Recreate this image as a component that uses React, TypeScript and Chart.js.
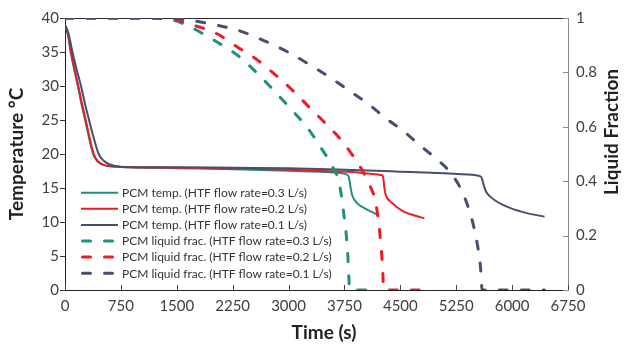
import React, { useEffect, useRef } from "react";
import { Chart, registerables } from "chart.js";

Chart.register(...registerables);

// ---------- data ----------
const timeTickStep = 750;
const timeMax = 6750;
const tempMax = 40;
const tempStep = 5;
const fracStep = 0.2;

const legendLabels = [
  "PCM temp. (HTF flow rate=0.3 L/s)",
  "PCM temp. (HTF flow rate=0.2 L/s)",
  "PCM temp. (HTF flow rate=0.1 L/s)",
  "PCM liquid frac. (HTF flow rate=0.3 L/s)",
  "PCM liquid frac. (HTF flow rate=0.2 L/s)",
  "PCM liquid frac. (HTF flow rate=0.1 L/s)",
];

const tempTime03 = [0, 38, 76, 124, 172, 220, 270, 322, 377, 432, 512, 600, 750, 1500, 2250, 3000, 3500, 3780, 3805, 3820, 3835, 3852, 3880, 3948, 4000, 4060, 4130, 4203];
const temp03 = [39.0, 37.6, 35.0, 32.4, 30.0, 27.4, 25.0, 22.4, 20.0, 18.95, 18.4, 18.2, 18.1, 17.92, 17.75, 17.55, 17.35, 17.0, 16.7, 16.0, 14.9, 14.0, 13.3, 12.5, 12.15, 11.8, 11.4, 11.0];

const tempTime02 = [0, 40, 81, 130, 179, 228, 278, 330, 385, 440, 520, 605, 750, 1500, 2250, 3000, 3500, 3900, 4100, 4262, 4272, 4283, 4295, 4320, 4355, 4395, 4470, 4552, 4690, 4823];
const temp02 = [39.0, 37.6, 35.0, 32.4, 30.0, 27.4, 25.0, 22.4, 20.0, 18.95, 18.4, 18.2, 18.1, 17.98, 17.85, 17.7, 17.5, 17.3, 17.08, 16.85, 16.4, 15.3, 14.4, 13.6, 13.1, 12.75, 12.05, 11.5, 10.95, 10.55];

const tempTime01 = [0, 45, 100, 157, 215, 268, 323, 385, 452, 520, 600, 675, 800, 1500, 2250, 3000, 3750, 4500, 5000, 5495, 5584, 5600, 5625, 5651, 5700, 5763, 5870, 5987, 6100, 6211, 6435];
const temp01 = [39.0, 37.8, 35.0, 32.4, 30.0, 27.4, 25.0, 22.4, 20.0, 19.0, 18.45, 18.25, 18.1, 18.05, 17.97, 17.9, 17.68, 17.4, 17.2, 16.9, 16.65, 16.2, 15.2, 14.46, 13.8, 13.24, 12.55, 12.0, 11.6, 11.27, 10.78];

const fracTime03 = [0, 1000, 1412, 1614, 1994, 2310, 2534, 2759, 3006, 3253, 3454, 3589, 3679, 3746, 3791, 3813, 3822, 4200];
const frac03 = [1, 1, 0.994, 0.976, 0.919, 0.864, 0.809, 0.746, 0.673, 0.596, 0.515, 0.454, 0.393, 0.27, 0.147, 0.025, 0, 0];

const fracTime02 = [0, 1000, 1450, 1614, 2018, 2332, 2579, 2826, 3050, 3274, 3476, 3679, 3834, 3968, 4080, 4170, 4224, 4260, 4278, 4823];
const frac02 = [1, 1, 0.996, 0.982, 0.945, 0.89, 0.846, 0.79, 0.735, 0.673, 0.618, 0.56, 0.505, 0.45, 0.39, 0.32, 0.21, 0.09, 0, 0];

const fracTime01 = [0, 1300, 1636, 2018, 2363, 2651, 2991, 3327, 3587, 3843, 4066, 4306, 4552, 4775, 4977, 5136, 5315, 5450, 5530, 5575, 5598, 6435];
const frac01 = [1, 1, 0.993, 0.975, 0.951, 0.919, 0.875, 0.821, 0.776, 0.727, 0.685, 0.631, 0.582, 0.529, 0.484, 0.443, 0.37, 0.27, 0.173, 0.086, 0, 0];

// ---------- styles ----------
const TEAL = "#1f8f7e";
const RED = "#ec1c24";
const NAVY = "#454f6e";
const FONT = "Lato";

const pts = (xs: number[], ys: number[]) => xs.map((x, i) => ({ x, y: ys[i] }));

const decorPlugin = {
  id: "decor",
  beforeDatasetsDraw(chart: any) {
    const { ctx, chartArea: a } = chart;
    ctx.save();
    ctx.strokeStyle = "#2b2b2b";
    ctx.lineWidth = 1;
    ctx.beginPath();
    ctx.moveTo(a.left, a.top + 0.5);
    ctx.lineTo(a.right, a.top + 0.5);
    ctx.stroke();
    // inward ticks on x axis
    const xs = chart.scales.x;
    ctx.beginPath();
    xs.ticks.forEach((t: any) => {
      const px = Math.round(xs.getPixelForValue(t.value)) + 0.5;
      ctx.moveTo(px, a.bottom);
      ctx.lineTo(px, a.bottom - 5);
    });
    ctx.strokeStyle = "#444";
    ctx.stroke();
    // inward ticks on right axis
    const ys = chart.scales.y1;
    ctx.beginPath();
    ys.ticks.forEach((t: any) => {
      const py = Math.round(ys.getPixelForValue(t.value)) + 0.5;
      ctx.moveTo(a.right, py);
      ctx.lineTo(a.right - 5, py);
    });
    ctx.strokeStyle = "#8a8a8a";
    ctx.stroke();
    ctx.restore();
  },
  afterDraw(chart: any) {
    const { ctx } = chart;
    ctx.save();
    // legend
    const y0 = 192.7;
    const step = 16.1;
    chart.data.datasets.forEach((ds: any, i: number) => {
      const y = y0 + i * step;
      ctx.beginPath();
      ctx.strokeStyle = ds.borderColor;
      ctx.lineWidth = ds.borderWidth;
      ctx.lineCap = ds.borderCapStyle || "butt";
      ctx.setLineDash(ds.borderDash || []);
      ctx.moveTo(ds.borderDash ? 82.5 : 81, y);
      ctx.lineTo(118, y);
      ctx.stroke();
      ctx.setLineDash([]);
      ctx.fillStyle = "#333";
      ctx.font = `12px ${FONT}`;
      ctx.textAlign = "left";
      ctx.textBaseline = "middle";
      ctx.fillText(ds.label, 122, y + 0.5);
    });
    // axis titles
    ctx.fillStyle = "#222";
    ctx.font = `bold 19px ${FONT}`;
    ctx.textAlign = "center";
    ctx.textBaseline = "middle";
    ctx.fillText("Time (s)", 324, 333);
    ctx.save();
    ctx.translate(17, 154);
    ctx.rotate(-Math.PI / 2);
    ctx.fillText("Temperature \u00B0C", 0, 0);
    ctx.restore();
    ctx.save();
    ctx.translate(612, 132);
    ctx.rotate(-Math.PI / 2);
    ctx.fillText("Liquid Fraction", 0, 0);
    ctx.restore();
    ctx.restore();
  },
};

export default function App() {
  const ref = useRef<HTMLCanvasElement | null>(null);

  useEffect(() => {
    document.body.style.margin = "0";
    const canvas = ref.current;
    if (!canvas) return;
    const solid = (label: string, color: string, data: any, order: number) => ({
      label,
      data,
      borderColor: color,
      backgroundColor: color,
      borderWidth: 2,
      pointRadius: 0,
      cubicInterpolationMode: "monotone" as const,
      yAxisID: "y",
      order,
    });
    const dashed = (label: string, color: string, data: any, order: number) => ({
      label,
      data,
      borderColor: color,
      backgroundColor: color,
      borderWidth: 3,
      borderDash: [8, 14],
      borderCapStyle: "round" as const,
      pointRadius: 0,
      cubicInterpolationMode: "monotone" as const,
      yAxisID: "y1",
      order,
    });
    const tickFont = { family: FONT, size: 15 };
    const chart = new Chart(canvas, {
      type: "line",
      data: {
        datasets: [
          solid(legendLabels[0], TEAL, pts(tempTime03, temp03), 5),
          solid(legendLabels[1], RED, pts(tempTime02, temp02), 4),
          solid(legendLabels[2], NAVY, pts(tempTime01, temp01), 3),
          dashed(legendLabels[3], TEAL, pts(fracTime03, frac03), 2),
          dashed(legendLabels[4], RED, pts(fracTime02, frac02), 1),
          dashed(legendLabels[5], NAVY, pts(fracTime01, frac01), 0),
        ] as any,
      },
      options: {
        animation: false,
        responsive: false,
        layout: { padding: { top: 18, left: 0, right: 0, bottom: 0 } },
        plugins: { legend: { display: false }, tooltip: { enabled: false }, title: { display: false } },
        scales: {
          x: {
            type: "linear",
            min: 0,
            max: timeMax,
            afterFit: (s: any) => { s.height = 61; },
            ticks: {
              stepSize: timeTickStep,
              font: tickFont,
              color: "#404040",
              padding: 7,
              maxRotation: 0,
              autoSkip: false,
              callback: (v: any) => String(v),
            },
            grid: { display: false, drawTicks: false },
            border: { display: true, color: "#222", width: 1 },
          },
          y: {
            type: "linear",
            position: "left",
            min: 0,
            max: tempMax,
            afterFit: (s: any) => { s.width = 65; },
            ticks: { stepSize: tempStep, font: tickFont, color: "#404040", padding: 1, callback: (v: any) => String(v) },
            grid: { display: true, drawOnChartArea: false, drawTicks: true, tickLength: 5, color: "#333" },
            border: { display: true, color: "#222", width: 1 },
          },
          y1: {
            type: "linear",
            position: "right",
            min: 0,
            max: 1,
            afterFit: (s: any) => { s.width = 60; },
            ticks: {
              stepSize: fracStep,
              font: tickFont,
              color: "#404040",
              padding: 8,
              callback: (v: any) => String(Math.round(v * 10) / 10),
            },
            grid: { display: false, drawTicks: false },
            border: { display: true, color: "#8a8a8a", width: 1 },
          },
        },
      } as any,
      plugins: [decorPlugin],
    });
    return () => chart.destroy();
  }, []);

  return <canvas ref={ref} width={628} height={351} style={{ display: "block" }} />;
}
